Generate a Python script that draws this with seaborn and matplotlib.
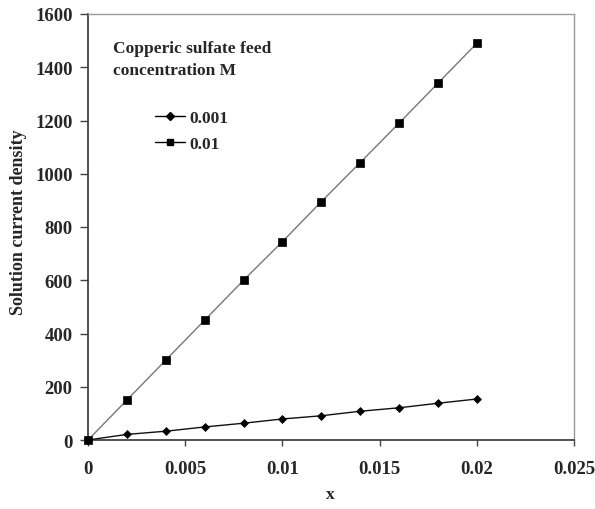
import matplotlib
matplotlib.use("Agg")
import matplotlib.pyplot as plt
import seaborn as sns
import pandas as pd
from matplotlib.lines import Line2D

# Feed-concentration series: x against solution current density
x_vals = [0, 0.002, 0.004, 0.006, 0.008, 0.010, 0.012, 0.014, 0.016, 0.018, 0.020]
density_0001 = [0, 21, 33, 49, 63, 79, 91, 108, 121, 138, 154]
density_001 = [0, 150, 300, 450, 600, 745, 895, 1042, 1190, 1340, 1490]
series_labels = ["0.001", "0.01"]

x_ticks = [0, 0.005, 0.01, 0.015, 0.02, 0.025]
x_tick_labels = ["0", "0.005", "0.01", "0.015", "0.02", "0.025"]
y_ticks = [0, 200, 400, 600, 800, 1000, 1200, 1400, 1600]

sns.set_theme(style="white")
plt.rcParams["font.family"] = ["Liberation Serif", "DejaVu Serif"]
plt.rcParams["font.weight"] = "bold"

df = pd.DataFrame({
    "x": x_vals * 2,
    "density": density_0001 + density_001,
    "conc": [series_labels[0]] * len(x_vals) + [series_labels[1]] * len(x_vals),
})

fig = plt.figure(figsize=(5.95, 5.10), dpi=100)
ax = fig.add_axes([88 / 595, 1 - 441 / 510, (574 - 88) / 595, (441 - 15) / 510])

line_colors = {"0.001": "#111111", "0.01": "#777777"}
markers = {"0.001": "D", "0.01": "s"}
msizes = {"0.001": 4.5, "0.01": 6}

for lab in series_labels:
    sub = df[df["conc"] == lab]
    sns.lineplot(data=sub, x="x", y="density", ax=ax, color=line_colors[lab],
                 linewidth=1.0, marker=markers[lab], markersize=msizes[lab],
                 markerfacecolor="black", markeredgecolor="black",
                 markeredgewidth=0.5, legend=False, zorder=3, clip_on=False)

ax.set_xlim(0, 0.025)
ax.set_ylim(0, 1600)
ax.set_xticks(x_ticks)
ax.set_xticklabels(x_tick_labels)
ax.set_yticks(y_ticks)
ax.tick_params(axis="both", bottom=True, left=True, labelsize=13.5,
               direction="out", width=1, color="#444444")
ax.tick_params(axis="y", length=6, pad=5)
ax.tick_params(axis="x", length=4.3, pad=10)
for t in ax.get_xticklabels() + ax.get_yticklabels():
    t.set_fontweight("bold")

for side in ["left", "bottom"]:
    ax.spines[side].set_color("#333333")
    ax.spines[side].set_linewidth(1.2)
for side in ["top", "right"]:
    ax.spines[side].set_color("#999999")
    ax.spines[side].set_linewidth(1.0)

ax.set_xlabel("x", fontsize=12.5, fontweight="bold")
ax.set_ylabel("Solution current density", fontsize=13, fontweight="bold")
ax.xaxis.set_label_coords(0.498, -0.127)
ax.yaxis.set_label_coords(-0.144, 0.514)
ax.xaxis.label.set_va("center")
ax.yaxis.label.set_va("center")

handles = [
    Line2D([], [], color="black", linewidth=1.0, marker="D", markersize=4,
           markerfacecolor="black"),
    Line2D([], [], color="black", linewidth=1.0, marker="s", markersize=5,
           markerfacecolor="black"),
]
leg = ax.legend(handles, series_labels, title="Copperic sulfate feed\nconcentration M",
                loc="upper center", bbox_to_anchor=(0.214, 0.975), frameon=False,
                fontsize=12.5, title_fontsize=12.5, handlelength=1.7,
                handletextpad=0.3, labelspacing=0.55, alignment="center")
leg.get_title().set_fontweight("bold")
leg.get_title().set_linespacing(1.5)
for t in leg.get_texts():
    t.set_fontweight("bold")
leg._legend_box.sep = 23

fig.savefig("out.png", dpi=100)
